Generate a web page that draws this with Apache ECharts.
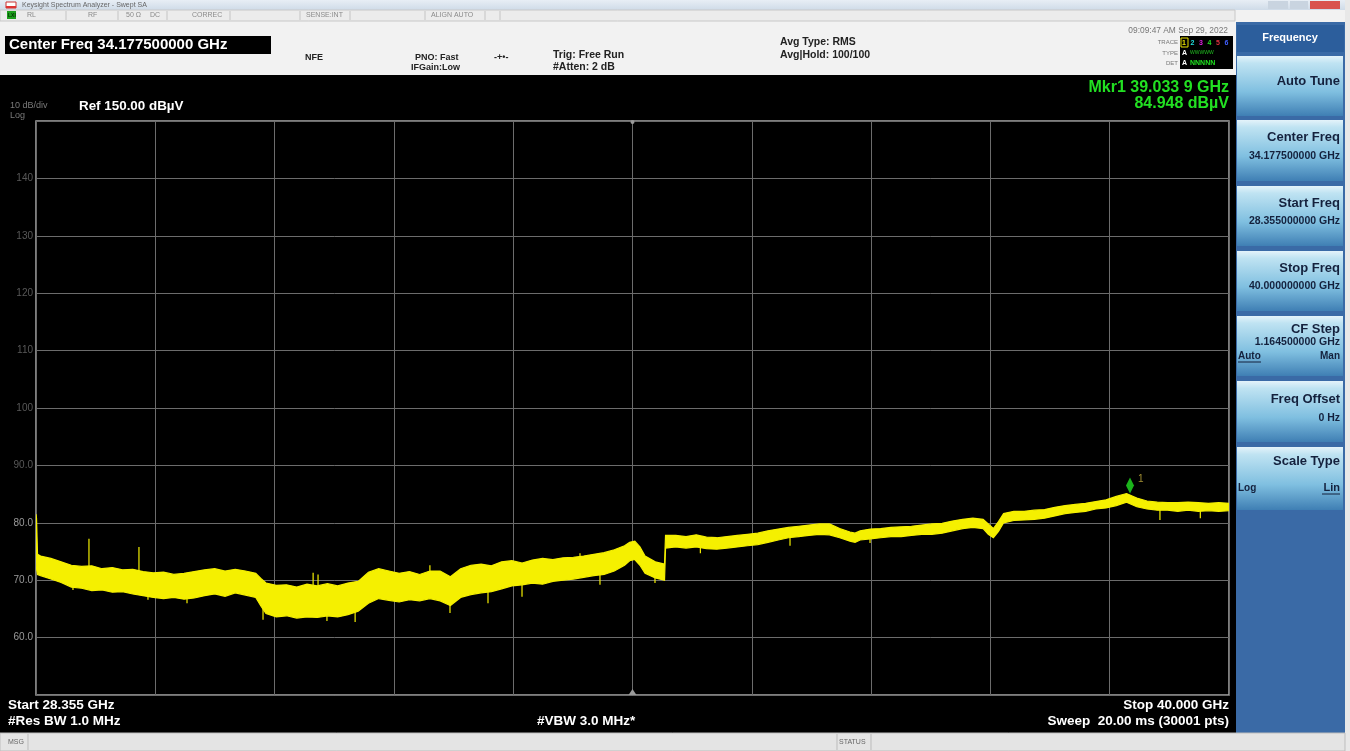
<!DOCTYPE html>
<html><head><meta charset="utf-8">
<script src="https://cdn.jsdelivr.net/npm/echarts@6/dist/echarts.min.js"></script>
<style>html,body{margin:0;padding:0;background:#000;}#c{width:1350px;height:751px;}</style>
</head><body><div id="c"></div>
<script>
// ---- data ----
const freqGHz = [28.355,28.36,28.37,28.4,28.5,28.6,28.7,28.8,28.9,29.0,29.1,29.2,29.3,29.4,29.5,29.6,29.7,29.8,29.9,30.0,30.1,30.2,30.3,30.4,30.5,30.55,30.6,30.7,30.8,30.9,31.0,31.1,31.2,31.3,31.4,31.5,31.6,31.7,31.8,31.9,32.0,32.1,32.2,32.3,32.4,32.5,32.6,32.7,32.8,32.9,33.0,33.1,33.2,33.3,33.4,33.5,33.6,33.7,33.8,33.9,34.0,34.1,34.15,34.2,34.25,34.3,34.4,34.49,34.5,34.6,34.7,34.8,34.9,35.0,35.1,35.2,35.3,35.4,35.5,35.6,35.7,35.8,35.9,36.0,36.1,36.2,36.3,36.35,36.4,36.5,36.6,36.7,36.8,36.9,37.0,37.1,37.2,37.3,37.4,37.5,37.6,37.65,37.7,37.75,37.8,37.9,38.0,38.1,38.2,38.3,38.4,38.5,38.6,38.7,38.8,38.9,39.0,39.1,39.2,39.3,39.4,39.5,39.6,39.7,39.8,39.9,40.0];
const lowDbuV = [73.0,72.0,71.0,70.8,70.2,69.6,68.8,68.6,68.2,68.3,67.9,68.0,67.6,67.3,67.0,66.8,67.0,66.7,66.9,67.3,67.6,67.2,67.8,67.4,67.0,65.5,64.2,63.6,63.8,63.4,63.6,63.5,63.8,63.6,64.0,64.6,66.0,66.8,66.5,66.2,66.6,66.4,66.8,66.4,65.6,67.0,67.5,67.8,68.0,68.5,69.0,69.2,69.5,69.3,69.8,70.0,70.2,70.5,70.8,71.0,71.6,72.6,73.4,73.6,72.6,71.2,70.4,70.0,75.6,75.8,75.6,75.8,75.5,75.4,75.6,75.8,76.0,76.2,76.6,77.0,77.4,77.6,77.8,78.0,77.9,77.4,76.8,76.6,77.0,77.2,77.4,77.6,77.6,77.8,78.0,78.0,78.2,78.6,79.0,79.2,79.0,78.0,77.4,78.5,80.0,80.4,80.5,80.6,80.8,81.2,81.6,81.8,82.0,82.4,82.6,83.0,83.6,82.8,82.4,82.2,82.2,82.0,82.2,82.0,82.1,82.0,82.1];
const highDbuV = [81.5,80.8,74.5,74.2,73.8,73.2,72.6,72.4,72.5,72.0,72.2,71.8,71.9,71.5,71.3,71.4,71.0,71.2,71.5,71.8,72.0,71.6,71.9,71.6,71.2,70.3,69.5,69.1,69.2,68.8,69.3,69.0,69.4,69.0,69.5,69.8,71.4,72.0,71.6,71.2,71.5,71.0,71.6,71.6,70.6,72.0,72.6,72.8,72.5,73.2,73.4,73.0,73.5,73.8,73.6,73.9,74.0,74.2,74.5,74.8,75.3,76.0,76.6,76.8,75.8,74.2,73.2,72.8,77.8,77.8,77.6,77.9,77.5,77.4,77.6,77.8,78.0,78.2,78.6,78.9,79.2,79.4,79.6,79.8,79.8,79.0,78.4,78.2,78.6,78.9,79.0,79.2,79.3,79.4,79.6,79.8,79.9,80.3,80.6,80.8,80.6,79.8,79.0,80.2,81.6,82.0,82.0,82.2,82.3,82.7,83.0,83.2,83.4,83.7,84.0,84.6,85.1,84.3,83.8,83.6,83.5,83.5,83.6,83.5,83.4,83.5,83.4];
// isolated spurs and noise excursions: [freq GHz, from dBuV, to dBuV]
const spurs = [[28.872,71.0,77.2],[29.36,70.5,75.8],[31.06,68.0,71.3],[31.108,68.0,71.0],[32.2,70.5,72.6],[33.665,73.0,74.7],
  [28.716,69.5,68.3],[29.448,68.0,66.6],[29.829,67.5,66.0],[30.571,66.0,63.1],[31.195,64.5,62.9],[31.47,64.5,62.7],[32.396,66.0,64.3],[32.767,68.5,66.0],[33.099,69.8,67.1],[33.86,71.5,69.2],[34.397,71.0,69.5],[34.84,76.0,74.7],[35.715,77.8,76.0],[36.496,77.8,76.5],[39.326,82.6,80.5],[39.72,82.4,80.8]];
const marker = [39.0339, 84.948];
const yTicks = [50,60,70,80,90,100,110,120,130,140,150];
const startGHz = 28.355, stopGHz = 40.0, centerGHz = 34.1775;

const FONT = '"Liberation Sans", Arial, sans-serif';
const chart = echarts.init(document.getElementById('c'), null, {renderer:'canvas'});

function txt(x,y,s,opt){
  return {type:'text',x:x,y:y,silent:true,z:10,style:Object.assign({text:s,fill:'#fff',font:'bold 12px '+FONT,textVerticalAlign:'middle'},opt||{})};
}
function rect(x,y,w,h,fill,extra){return {type:'rect',silent:true,z:5,shape:{x:x,y:y,width:w,height:h},style:Object.assign({fill:fill},extra||{})};}
function ln(x1,y1,x2,y2,c){return {type:'line',silent:true,z:6,shape:{x1:x1,y1:y1,x2:x2,y2:y2},style:{stroke:c,lineWidth:1}};}

const btnGrad = {type:'linear',x:0,y:0,x2:0,y2:1,colorStops:[{offset:0,color:'#e4f3fa'},{offset:0.12,color:'#bfe3f2'},{offset:0.6,color:'#7fbfe0'},{offset:1,color:'#3f7fb4'}]};
const buttons = [
  {y:56,h:60,title:'Auto Tune',ty:81},
  {y:120,h:61,title:'Center Freq',ty:137,val:'34.177500000 GHz',vy:156},
  {y:186,h:60,title:'Start Freq',ty:203,val:'28.355000000 GHz',vy:221},
  {y:251,h:60,title:'Stop Freq',ty:268,val:'40.000000000 GHz',vy:286},
  {y:316,h:60,title:'CF Step',ty:329,val:'1.164500000 GHz',vy:342},
  {y:381,h:61,title:'Freq Offset',ty:399,val:'0 Hz',vy:418},
  {y:447,h:63,title:'Scale Type',ty:461}
];
const g = [];
// top chrome
g.push(rect(0,0,1350,75,'#f2f2f2'));
g.push(rect(0,0,1350,10,{type:'linear',x:0,y:0,x2:0,y2:1,colorStops:[{offset:0,color:'#e8eef5'},{offset:1,color:'#cfdbe8'}]}));
g.push(rect(6,2,10,6,'#fff',{stroke:'#c33',lineWidth:1}));
g.push(rect(6,6,10,2,'#d33'));
g.push(txt(22,5,'Keysight Spectrum Analyzer - Swept SA',{fill:'#666',font:'7px '+FONT}));
g.push(rect(1268,1,20,8,'#c9d4e0'));g.push(rect(1290,1,18,8,'#c9d4e0'));g.push(rect(1310,1,30,8,'#d9534f'));
g.push(rect(0,10,1235,11,'#ececec',{stroke:'#c8c8c8',lineWidth:1}));
g.push(rect(7,11,9,8,'#1b9e1b'));
g.push(txt(8,15.5,'LXI',{fill:'#003300',font:'bold 5px '+FONT}));
[[27,'RL'],[88,'RF'],[126,'50 Ω'],[150,'DC'],[192,'CORREC'],[306,'SENSE:INT'],[431,'ALIGN AUTO']].forEach(function(a){g.push(txt(a[0],15.5,a[1],{fill:'#8a8a8a',font:'7px '+FONT}));});
[66,118,167,230,300,350,425,485,500].forEach(function(x){g.push(ln(x,11,x,20,'#c4c4c4'));});
g.push(rect(5,36,266,18,'#000'));
g.push(txt(9,45,'Center Freq 34.177500000 GHz',{font:'bold 15px '+FONT,fill:'#fff'}));
g.push(txt(305,58,'NFE',{fill:'#222',font:'bold 9px '+FONT}));
g.push(txt(415,58,'PNO: Fast',{fill:'#222',font:'bold 9px '+FONT}));
g.push(txt(411,68,'IFGain:Low',{fill:'#222',font:'bold 9px '+FONT}));
g.push(txt(494,58,'-+•-',{fill:'#222',font:'bold 9px '+FONT}));
g.push(txt(553,55,'Trig: Free Run',{fill:'#222',font:'bold 10.5px '+FONT}));
g.push(txt(553,67,'#Atten: 2 dB',{fill:'#222',font:'bold 10.5px '+FONT}));
g.push(txt(780,42,'Avg Type: RMS',{fill:'#222',font:'bold 10.5px '+FONT}));
g.push(txt(780,55,'Avg|Hold: 100/100',{fill:'#222',font:'bold 10.5px '+FONT}));
g.push(txt(1228,31,'09:09:47 AM Sep 29, 2022',{fill:'#777',font:'8.4px '+FONT,textAlign:'right'}));
g.push(rect(1180,36,53,33,'#000'));
g.push(txt(1178,42,'TRACE',{fill:'#777',font:'6px '+FONT,textAlign:'right'}));
g.push(txt(1178,53,'TYPE',{fill:'#777',font:'6px '+FONT,textAlign:'right'}));
g.push(txt(1178,63,'DET',{fill:'#777',font:'6px '+FONT,textAlign:'right'}));
g.push(rect(1181,38,7,9,'#000',{stroke:'#e8e000',lineWidth:1}));
[['1','#e8e000'],['2','#20e0e0'],['3','#e020e0'],['4','#20e020'],['5','#e03040'],['6','#4060ff']].forEach(function(a,i){g.push(txt(1182+i*8.5,43,a[0],{fill:a[1],font:'bold 7px '+FONT}));});
g.push(txt(1182,53,'A',{fill:'#fff',font:'bold 7px '+FONT}));
g.push(txt(1190,53,'WWWWW',{fill:'#20c020',font:'5px '+FONT}));
g.push(txt(1182,63,'A',{fill:'#fff',font:'bold 7px '+FONT}));
g.push(txt(1190,63,'NNNNN',{fill:'#20e020',font:'bold 7px '+FONT}));
// right softkey panel
g.push(rect(1236,22,109,711,'#3a6aa6'));
g.push(rect(1237,25,107,27,'#2c5e9c'));
g.push(txt(1290,38,'Frequency',{fill:'#fff',font:'bold 11px '+FONT,textAlign:'center'}));
buttons.forEach(function(b){
  g.push(rect(1237,b.y,106,b.h,btnGrad));
  g.push(txt(1340,b.ty,b.title,{fill:'#14213d',font:'bold 13px '+FONT,textAlign:'right'}));
  if(b.val) g.push(txt(1340,b.vy,b.val,{fill:'#14213d',font:'bold 10.5px '+FONT,textAlign:'right'}));
});
g.push(txt(1238,356,'Auto',{fill:'#14213d',font:'bold 10px '+FONT}));
g.push(ln(1238,362,1261,362,'#14213d'));
g.push(txt(1340,356,'Man',{fill:'#14213d',font:'bold 10px '+FONT,textAlign:'right'}));
g.push(txt(1238,488,'Log',{fill:'#14213d',font:'bold 10px '+FONT}));
g.push(txt(1340,488,'Lin',{fill:'#14213d',font:'bold 11px '+FONT,textAlign:'right'}));
g.push(ln(1322,494,1340,494,'#14213d'));
g.push(rect(1345,0,5,751,'#e8e8e8'));
// bottom status bar
g.push(rect(0,733,1345,18,'#e4e4e4',{stroke:'#bdbdbd',lineWidth:1}));
g.push(txt(8,742,'MSG',{fill:'#666',font:'7px '+FONT}));
g.push(ln(28,734,28,750,'#bbb'));
g.push(ln(837,734,837,750,'#bbb'));
g.push(ln(871,734,871,750,'#bbb'));
g.push(txt(839,742,'STATUS',{fill:'#666',font:'7px '+FONT}));
// annotation texts
g.push(txt(10,106,'10 dB/div',{fill:'#7a7a7a',font:'9px '+FONT}));
g.push(txt(10,116,'Log',{fill:'#7a7a7a',font:'9px '+FONT}));
g.push(txt(79,106,'Ref 150.00 dBµV',{fill:'#fff',font:'bold 13.4px '+FONT}));
g.push(txt(1229,88,'Mkr1 39.033 9 GHz',{fill:'#22e022',font:'bold 16px '+FONT,textAlign:'right'}));
g.push(txt(1229,104,'84.948 dBµV',{fill:'#22e022',font:'bold 16px '+FONT,textAlign:'right'}));
g.push(txt(8,705,'Start 28.355 GHz',{font:'bold 13.5px '+FONT}));
g.push(txt(8,721,'#Res BW 1.0 MHz',{font:'bold 13.5px '+FONT}));
g.push(txt(537,721,'#VBW 3.0 MHz*',{font:'bold 13.5px '+FONT}));
g.push(txt(1229,705,'Stop 40.000 GHz',{font:'bold 13.5px '+FONT,textAlign:'right'}));
g.push(txt(1229,721,'Sweep  20.00 ms (30001 pts)',{font:'bold 13.5px '+FONT,textAlign:'right'}));

function bandRender(params, api){
  const pts=[];
  for(let i=0;i<freqGHz.length;i++) pts.push(api.coord([freqGHz[i],highDbuV[i]]));
  for(let i=freqGHz.length-1;i>=0;i--) pts.push(api.coord([freqGHz[i],lowDbuV[i]]));
  return {type:'polygon',shape:{points:pts},style:{fill:'#f5f000',stroke:'#f5f000',lineWidth:1.2}};
}
function spurRender(params, api){
  const a=api.coord([api.value(0),api.value(1)]), b=api.coord([api.value(0),api.value(2)]);
  return {type:'line',shape:{x1:a[0],y1:a[1],x2:b[0],y2:b[1]},style:{stroke:'#f5f000',lineWidth:1.2}};
}

const option = {
  backgroundColor:'#000',
  animation:false,
  grid:{left:36,top:121,width:1193,height:574,show:true,borderColor:'#a8a8a8',borderWidth:1.5,backgroundColor:'transparent'},
  xAxis:[
    {type:'value',min:startGHz,max:stopGHz,show:false},
    {type:'value',min:0,max:10,interval:1,position:'bottom',axisLine:{show:false},axisTick:{show:false},axisLabel:{show:false},splitLine:{show:true,lineStyle:{color:'#6c6c6c',width:1}}}
  ],
  yAxis:{type:'value',min:yTicks[0],max:yTicks[yTicks.length-1],interval:10,axisLine:{show:false},axisTick:{show:false},
    splitLine:{show:true,lineStyle:{color:'#6c6c6c',width:1}},
    axisLabel:{margin:3,fontFamily:FONT,fontSize:10,
      formatter:function(v){ if(v===yTicks[0]||v===yTicks[yTicks.length-1]) return ''; return v>=100?'{f|'+v+'}':(v>=90?'{f|'+v.toFixed(1)+'}':'{n|'+v.toFixed(1)+'}'); },
      rich:{f:{color:'#585858',fontSize:10,fontFamily:FONT},n:{color:'#9a9a9a',fontSize:10,fontFamily:FONT}}}},
  series:[
    {type:'custom',xAxisIndex:0,renderItem:bandRender,data:[[startGHz,lowDbuV[0]]],clip:true,silent:true},
    {type:'custom',xAxisIndex:0,renderItem:spurRender,data:spurs,clip:true,silent:true,encode:{x:0,y:[1,2]}},
    {type:'scatter',xAxisIndex:0,data:[marker],symbol:'diamond',symbolSize:[8,16],symbolOffset:[0,-9],
      itemStyle:{color:'#22e022'},silent:true,
      label:{show:true,formatter:'1',position:'right',offset:[-1,-6],color:'#c8b040',fontSize:10,fontFamily:FONT}}
  ],
  graphic:{elements:g}
};
chart.setOption(option);
// center-frequency indicators on top and bottom edges
const cxPix = chart.convertToPixel({xAxisIndex:0}, centerGHz);
const topPix = chart.convertToPixel({yAxisIndex:0}, yTicks[yTicks.length-1]);
const botPix = chart.convertToPixel({yAxisIndex:0}, yTicks[0]);
chart.setOption({graphic:{elements:g.concat([
  {type:'circle',silent:true,z:6,shape:{cx:cxPix,cy:topPix+1,r:2},style:{fill:'#9a9a9a'}},
  {type:'polygon',silent:true,z:6,shape:{points:[[cxPix-4,botPix],[cxPix+4,botPix],[cxPix,botPix-6]]},style:{fill:'#9a9a9a'}}
])}});
</script></body></html>
